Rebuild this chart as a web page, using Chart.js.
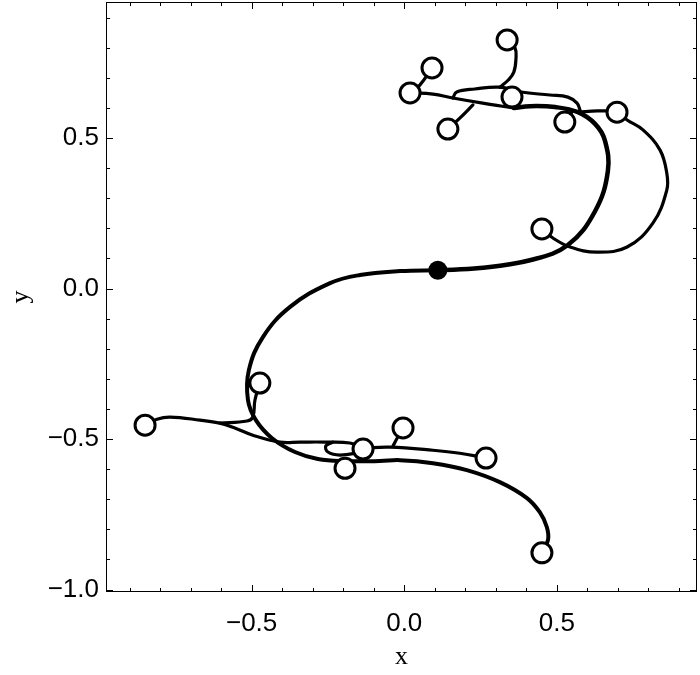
<!DOCTYPE html>
<html>
<head>
<meta charset="utf-8">
<script src="https://cdn.jsdelivr.net/npm/chart.js@4.4.1/dist/chart.umd.min.js"></script>
<style>
  body { margin: 0; background: #fff; }
</style>
</head>
<body>
<canvas id="plot" width="700" height="675"></canvas>
<script>
// end points of the walks (open circles) and the common start point
const endX = [0.337, 0.091, 0.019, 0.143, 0.353, 0.526, 0.697, 0.451, -0.473, -0.849, -0.004, -0.135, -0.194, 0.268, 0.451];
const endY = [0.826, 0.733, 0.650, 0.530, 0.636, 0.553, 0.586, 0.198, -0.314, -0.454, -0.463, -0.533, -0.597, -0.563, -0.878];
const startXY = [0.110, 0.061];

// traced paths, [x, y] in data units
const sLower = [[0.110, 0.061], [-0.014, 0.058], [-0.145, 0.045], [-0.243, 0.018], [-0.374, -0.061], [-0.463, -0.161],
  [-0.509, -0.271], [-0.512, -0.370], [-0.486, -0.437], [-0.433, -0.497], [-0.358, -0.543], [-0.283, -0.566],
  [-0.194, -0.573], [-0.080, -0.573], [-0.014, -0.570], [0.094, -0.580], [0.205, -0.603], [0.313, -0.643],
  [0.402, -0.696], [0.444, -0.743], [0.467, -0.792], [0.471, -0.835], [0.451, -0.878]];
const upperArc = [[0.110, 0.061], [0.248, 0.068], [0.415, 0.095], [0.536, 0.145], [0.625, 0.257], [0.667, 0.390],
  [0.657, 0.493], [0.625, 0.547], [0.569, 0.586], [0.494, 0.603], [0.412, 0.606], [0.359, 0.600]];
const outerArc = [[0.569, 0.586], [0.634, 0.590], [0.697, 0.586], [0.730, 0.560], [0.782, 0.527], [0.838, 0.460],
  [0.860, 0.384], [0.860, 0.327], [0.815, 0.218], [0.730, 0.138], [0.631, 0.121], [0.543, 0.138], [0.487, 0.168], [0.451, 0.198]];
const toC3 = [[0.359, 0.600], [0.257, 0.616], [0.159, 0.633], [0.094, 0.646], [0.019, 0.650]];
const toC2 = [[0.019, 0.650], [0.051, 0.676], [0.091, 0.733]];
const upperLoop = [[0.159, 0.633], [0.172, 0.653], [0.231, 0.663], [0.313, 0.669], [0.382, 0.653], [0.477, 0.643],
  [0.536, 0.636], [0.566, 0.616], [0.576, 0.593]];
const toC1 = [[0.313, 0.669], [0.340, 0.692], [0.359, 0.719], [0.366, 0.765], [0.363, 0.799], [0.337, 0.826]];
const toC4 = [[0.225, 0.610], [0.182, 0.566], [0.143, 0.530]];
const toC6 = [[0.549, 0.586], [0.526, 0.553]];
const toC10 = [[-0.135, -0.530], [-0.178, -0.513], [-0.260, -0.510], [-0.342, -0.510], [-0.407, -0.510], [-0.496, -0.487],
  [-0.555, -0.463], [-0.604, -0.447], [-0.669, -0.437], [-0.767, -0.427], [-0.810, -0.434], [-0.849, -0.454]];
const toC9 = [[-0.604, -0.447], [-0.515, -0.440], [-0.496, -0.427], [-0.489, -0.370], [-0.473, -0.314]];
const loopC12 = [[-0.135, -0.543], [-0.211, -0.553], [-0.250, -0.543], [-0.257, -0.523], [-0.234, -0.510]];
const toC14 = [[-0.135, -0.530], [-0.047, -0.527], [0.094, -0.537], [0.182, -0.547], [0.268, -0.563]];
const toC11 = [[-0.037, -0.523], [-0.021, -0.493], [-0.004, -0.467]];
const toC13 = [[-0.194, -0.573], [-0.194, -0.597]];

// ticks
const xTickVals = [-0.9, -0.8, -0.7, -0.6, -0.5, -0.4, -0.3, -0.2, -0.1, 0, 0.1, 0.2, 0.3, 0.4, 0.5, 0.6, 0.7, 0.8, 0.9];
const yTickVals = [-1.0, -0.9, -0.8, -0.7, -0.6, -0.5, -0.4, -0.3, -0.2, -0.1, 0, 0.1, 0.2, 0.3, 0.4, 0.5, 0.6, 0.7, 0.8, 0.9];
const majorVals = [-1.0, -0.5, 0, 0.5];

const isMajor = v => majorVals.some(m => Math.abs(m - v) < 1e-6);
const fmt = v => (v < -1e-9 ? '\u2212' : '') + Math.abs(v).toFixed(1);
const toPts = arr => arr.map(p => ({x: p[0], y: p[1]}));

function lineSet(pts, w) {
  return {
    data: toPts(pts), showLine: true, borderColor: '#000', borderWidth: w,
    pointRadius: 0, pointHoverRadius: 0, tension: 0.4,
    borderCapStyle: 'round', borderJoinStyle: 'round', order: 2
  };
}

// frame with inward ticks on all four sides
const frameTicks = {
  id: 'frameTicks',
  afterDatasetsDraw(chart) {
    const {ctx, chartArea: a, scales: {x, y}} = chart;
    ctx.save();
    ctx.strokeStyle = '#000';
    ctx.lineWidth = 1;
    ctx.strokeRect(a.left + 0.5, a.top + 0.5, a.right - a.left - 1, a.bottom - a.top - 1);
    ctx.beginPath();
    x.ticks.forEach(t => {
      const px = Math.round(x.getPixelForValue(t.value)) + 0.5;
      const len = isMajor(t.value) ? 7 : 4;
      ctx.moveTo(px, a.bottom); ctx.lineTo(px, a.bottom - len);
      ctx.moveTo(px, a.top); ctx.lineTo(px, a.top + len);
    });
    y.ticks.forEach(t => {
      const py = Math.round(y.getPixelForValue(t.value)) + 0.5;
      const len = isMajor(t.value) ? 7 : 4;
      ctx.moveTo(a.left, py); ctx.lineTo(a.left + len, py);
      ctx.moveTo(a.right, py); ctx.lineTo(a.right - len, py);
    });
    ctx.stroke();
    ctx.restore();
  }
};

const tickFont = {family: "'Liberation Sans', Arial, sans-serif", size: 26};
const titleFont = {family: "'Liberation Serif', 'Times New Roman', serif", size: 26};

new Chart(document.getElementById('plot').getContext('2d'), {
  type: 'scatter',
  data: {
    datasets: [
      {
        data: toPts(endX.map((v, i) => [v, endY[i]])),
        pointRadius: 10, pointHoverRadius: 10, pointBorderWidth: 3,
        pointBackgroundColor: '#fff', pointBorderColor: '#000', order: 0
      },
      {
        data: toPts([startXY]),
        pointRadius: 9.5, pointHoverRadius: 9.5, pointBorderWidth: 0,
        pointBackgroundColor: '#000', order: 0
      },
      lineSet(sLower, 4),
      lineSet(upperArc, 4.5),
      lineSet(outerArc, 3.2),
      lineSet(toC3, 3.2),
      lineSet(toC2, 3.2),
      lineSet(upperLoop, 3.2),
      lineSet(toC1, 3.2),
      lineSet(toC4, 3.2),
      lineSet(toC6, 3.2),
      lineSet(toC10, 3.2),
      lineSet(toC9, 3.2),
      lineSet(loopC12, 3.2),
      lineSet(toC14, 3.2),
      lineSet(toC11, 3.2),
      lineSet(toC13, 3.2)
    ]
  },
  options: {
    responsive: false,
    animation: false,
    devicePixelRatio: 1,
    layout: {autoPadding: false, padding: {top: 2, right: 3, left: 0, bottom: 0}},
    plugins: {legend: {display: false}, tooltip: {enabled: false}},
    scales: {
      x: {
        type: 'linear', min: -0.977, max: 0.959,
        afterBuildTicks: s => { s.ticks = xTickVals.map(v => ({value: v})); },
        afterFit: s => { s.height = 83; s.paddingLeft = 0; s.paddingRight = 0; },
        grid: {display: false, drawTicks: false},
        border: {display: false},
        ticks: {
          autoSkip: false, maxRotation: 0, padding: 16, color: '#000', font: tickFont,
          callback: v => isMajor(v) ? fmt(v) : ''
        },
        title: {display: true, text: 'x', color: '#000', font: titleFont, padding: {top: 0, bottom: 2}}
      },
      y: {
        type: 'linear', min: -1.008, max: 0.952,
        afterBuildTicks: s => { s.ticks = yTickVals.map(v => ({value: v})); },
        afterFit: s => { s.width = 106; s.paddingTop = 0; s.paddingBottom = 0; },
        grid: {display: false, drawTicks: false},
        border: {display: false},
        ticks: {
          autoSkip: false, padding: 7, color: '#000', font: tickFont,
          callback: v => isMajor(v) ? fmt(v) : ''
        },
        title: {display: true, text: 'y', color: '#000', font: titleFont, padding: {top: 6, bottom: 0}}
      }
    }
  },
  plugins: [frameTicks]
});
</script>
</body>
</html>
